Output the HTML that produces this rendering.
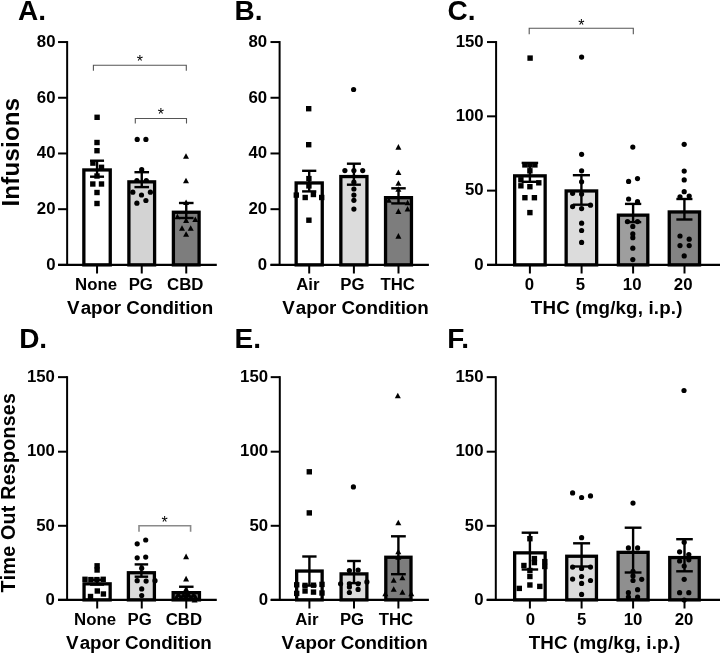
<!DOCTYPE html>
<html><head><meta charset="utf-8"><style>
html,body{margin:0;padding:0;background:#fff;width:720px;height:654px;overflow:hidden}
svg{display:block;will-change:transform}
text{font-family:"Liberation Sans", sans-serif;fill:#000;font-kerning:none}
</style></head><body>
<svg width="720" height="654" viewBox="0 0 720 654">
<rect width="720" height="654" fill="#fff"/>
<text x="18.00" y="20.20" font-size="28" font-weight="bold" text-anchor="start" >A.</text>
<text x="234.43" y="20.40" font-size="28" font-weight="bold" text-anchor="start" >B.</text>
<text x="447.45" y="20.10" font-size="28" font-weight="bold" text-anchor="start" >C.</text>
<text x="19.13" y="348.00" font-size="28" font-weight="bold" text-anchor="start" >D.</text>
<text x="234.53" y="348.00" font-size="28" font-weight="bold" text-anchor="start" >E.</text>
<text x="447.23" y="348.40" font-size="28" font-weight="bold">F<tspan dx="-3">.</tspan></text>
<text x="-206.61" y="0.00" font-size="24" font-weight="bold" textLength="108.69" lengthAdjust="spacing" transform="translate(18.8,0) rotate(-90)">Infusions</text>
<text x="-592.42" y="0.00" font-size="19.6" font-weight="bold" textLength="199.32" lengthAdjust="spacing" transform="translate(14.8,0) rotate(-90)">Time Out Responses</text>
<text x="67.07" y="313.80" font-size="18.8" font-weight="bold" textLength="146.09" lengthAdjust="spacing" >V<tspan dx="1.2">apor Condition</tspan></text>
<text x="282.17" y="313.90" font-size="18.8" font-weight="bold" textLength="146.59" lengthAdjust="spacing" >V<tspan dx="1.2">apor Condition</tspan></text>
<text x="530.79" y="313.90" font-size="18.8" font-weight="bold" textLength="151.65" lengthAdjust="spacing" >THC (mg/kg, i.p.)</text>
<text x="66.07" y="649.40" font-size="18.8" font-weight="bold" textLength="145.69" lengthAdjust="spacing" >V<tspan dx="1.2">apor Condition</tspan></text>
<text x="281.47" y="649.40" font-size="18.8" font-weight="bold" textLength="146.29" lengthAdjust="spacing" >V<tspan dx="1.2">apor Condition</tspan></text>
<text x="528.69" y="649.30" font-size="18.8" font-weight="bold" textLength="151.55" lengthAdjust="spacing" >THC (mg/kg, i.p.)</text>
<rect x="83.85" y="169.95" width="26.40" height="94.95" fill="#ffffff" stroke="#000" stroke-width="3.3"/>
<line x1="97.05" y1="160.70" x2="97.05" y2="176.70" stroke="#000" stroke-width="2.4" stroke-linecap="butt"/>
<line x1="90.05" y1="160.70" x2="104.05" y2="160.70" stroke="#000" stroke-width="2.4" stroke-linecap="butt"/>
<line x1="90.05" y1="176.70" x2="104.05" y2="176.70" stroke="#000" stroke-width="2.4" stroke-linecap="butt"/>
<rect x="94.40" y="114.60" width="5.4" height="5.4"/>
<rect x="94.30" y="139.80" width="5.4" height="5.4"/>
<rect x="94.30" y="148.00" width="5.4" height="5.4"/>
<rect x="90.20" y="160.40" width="5.4" height="5.4"/>
<rect x="98.80" y="164.60" width="5.4" height="5.4"/>
<rect x="94.30" y="173.30" width="5.4" height="5.4"/>
<rect x="90.10" y="181.30" width="5.4" height="5.4"/>
<rect x="98.80" y="181.30" width="5.4" height="5.4"/>
<rect x="94.30" y="189.80" width="5.4" height="5.4"/>
<rect x="94.30" y="200.80" width="5.4" height="5.4"/>
<rect x="128.90" y="181.85" width="25.70" height="83.05" fill="#d3d3d3" stroke="#000" stroke-width="3.3"/>
<line x1="141.75" y1="172.20" x2="141.75" y2="187.10" stroke="#000" stroke-width="2.4" stroke-linecap="butt"/>
<line x1="134.45" y1="172.20" x2="149.05" y2="172.20" stroke="#000" stroke-width="2.4" stroke-linecap="butt"/>
<line x1="134.45" y1="187.10" x2="149.05" y2="187.10" stroke="#000" stroke-width="2.4" stroke-linecap="butt"/>
<circle cx="137.20" cy="139.40" r="2.6"/>
<circle cx="145.90" cy="139.40" r="2.6"/>
<circle cx="141.70" cy="169.70" r="2.6"/>
<circle cx="136.90" cy="180.50" r="2.6"/>
<circle cx="146.30" cy="180.50" r="2.6"/>
<circle cx="132.80" cy="192.20" r="2.6"/>
<circle cx="150.40" cy="192.20" r="2.6"/>
<circle cx="141.50" cy="195.00" r="2.6"/>
<circle cx="145.90" cy="200.50" r="2.6"/>
<circle cx="136.90" cy="203.20" r="2.6"/>
<rect x="173.40" y="212.25" width="25.70" height="52.65" fill="#7d7d7d" stroke="#000" stroke-width="3.3"/>
<line x1="186.25" y1="203.00" x2="186.25" y2="218.00" stroke="#000" stroke-width="2.4" stroke-linecap="butt"/>
<line x1="178.95" y1="203.00" x2="193.55" y2="203.00" stroke="#000" stroke-width="2.4" stroke-linecap="butt"/>
<line x1="178.95" y1="218.00" x2="193.55" y2="218.00" stroke="#000" stroke-width="2.4" stroke-linecap="butt"/>
<path d="M186.00,153.24L189.00,158.84L183.00,158.84Z"/>
<path d="M186.00,177.64L189.00,183.24L183.00,183.24Z"/>
<path d="M186.10,199.44L189.10,205.04L183.10,205.04Z"/>
<path d="M177.40,213.64L180.40,219.24L174.40,219.24Z"/>
<path d="M195.30,216.44L198.30,222.04L192.30,222.04Z"/>
<path d="M186.10,217.34L189.10,222.94L183.10,222.94Z"/>
<path d="M182.00,225.14L185.00,230.74L179.00,230.74Z"/>
<path d="M190.70,225.14L193.70,230.74L187.70,230.74Z"/>
<path d="M186.10,231.14L189.10,236.74L183.10,236.74Z"/>
<line x1="67.15" y1="41.05" x2="67.15" y2="264.90" stroke="#000" stroke-width="2.0" stroke-linecap="butt"/>
<line x1="58.05" y1="264.90" x2="67.15" y2="264.90" stroke="#000" stroke-width="2.0" stroke-linecap="butt"/>
<text x="55.50" y="269.68" font-size="16.8" font-weight="bold" text-anchor="end" >0</text>
<line x1="58.05" y1="209.19" x2="67.15" y2="209.19" stroke="#000" stroke-width="2.0" stroke-linecap="butt"/>
<text x="55.50" y="213.97" font-size="16.8" font-weight="bold" text-anchor="end" >20</text>
<line x1="58.05" y1="153.47" x2="67.15" y2="153.47" stroke="#000" stroke-width="2.0" stroke-linecap="butt"/>
<text x="55.50" y="158.26" font-size="16.8" font-weight="bold" text-anchor="end" >40</text>
<line x1="58.05" y1="97.76" x2="67.15" y2="97.76" stroke="#000" stroke-width="2.0" stroke-linecap="butt"/>
<text x="55.50" y="102.54" font-size="16.8" font-weight="bold" text-anchor="end" >60</text>
<line x1="58.05" y1="42.05" x2="67.15" y2="42.05" stroke="#000" stroke-width="2.0" stroke-linecap="butt"/>
<text x="55.50" y="46.83" font-size="16.8" font-weight="bold" text-anchor="end" >80</text>
<line x1="58.05" y1="264.90" x2="216.80" y2="264.90" stroke="#000" stroke-width="2.2" stroke-linecap="butt"/>
<line x1="97.05" y1="264.90" x2="97.05" y2="273.50" stroke="#000" stroke-width="2" stroke-linecap="butt"/>
<text x="96.00" y="289.60" font-size="16.8" font-weight="bold" text-anchor="middle" >None</text>
<line x1="141.75" y1="264.90" x2="141.75" y2="273.50" stroke="#000" stroke-width="2" stroke-linecap="butt"/>
<text x="140.80" y="289.60" font-size="16.8" font-weight="bold" text-anchor="middle" >PG</text>
<line x1="186.25" y1="264.90" x2="186.25" y2="273.50" stroke="#000" stroke-width="2" stroke-linecap="butt"/>
<text x="185.30" y="289.60" font-size="16.8" font-weight="bold" text-anchor="middle" >CBD</text>
<path d="M93.40,70.70V65.20H186.30V70.70" fill="none" stroke="#555" stroke-width="1.1"/>
<text x="139.90" y="66.80" font-size="16" font-weight="normal" text-anchor="middle" >*</text>
<path d="M135.30,123.50V118.50H186.50V123.50" fill="none" stroke="#555" stroke-width="1.1"/>
<text x="160.90" y="119.50" font-size="16" font-weight="normal" text-anchor="middle" >*</text>
<rect x="296.15" y="182.95" width="26.10" height="81.95" fill="#ffffff" stroke="#000" stroke-width="3.3"/>
<line x1="309.20" y1="170.80" x2="309.20" y2="191.40" stroke="#000" stroke-width="2.4" stroke-linecap="butt"/>
<line x1="302.10" y1="170.80" x2="316.30" y2="170.80" stroke="#000" stroke-width="2.4" stroke-linecap="butt"/>
<line x1="302.10" y1="191.40" x2="316.30" y2="191.40" stroke="#000" stroke-width="2.4" stroke-linecap="butt"/>
<rect x="306.00" y="106.00" width="5.4" height="5.4"/>
<rect x="306.00" y="142.00" width="5.4" height="5.4"/>
<rect x="306.20" y="175.90" width="5.4" height="5.4"/>
<rect x="306.20" y="183.20" width="5.4" height="5.4"/>
<rect x="293.60" y="192.40" width="5.4" height="5.4"/>
<rect x="302.50" y="194.80" width="5.4" height="5.4"/>
<rect x="310.70" y="191.80" width="5.4" height="5.4"/>
<rect x="319.00" y="194.80" width="5.4" height="5.4"/>
<rect x="306.20" y="217.50" width="5.4" height="5.4"/>
<rect x="340.85" y="176.55" width="26.10" height="88.35" fill="#dcdcdc" stroke="#000" stroke-width="3.3"/>
<line x1="353.90" y1="163.70" x2="353.90" y2="184.70" stroke="#000" stroke-width="2.4" stroke-linecap="butt"/>
<line x1="346.90" y1="163.70" x2="360.90" y2="163.70" stroke="#000" stroke-width="2.4" stroke-linecap="butt"/>
<line x1="346.90" y1="184.70" x2="360.90" y2="184.70" stroke="#000" stroke-width="2.4" stroke-linecap="butt"/>
<circle cx="353.60" cy="89.50" r="2.6"/>
<circle cx="344.90" cy="170.60" r="2.6"/>
<circle cx="353.90" cy="170.60" r="2.6"/>
<circle cx="362.70" cy="170.60" r="2.6"/>
<circle cx="353.90" cy="182.20" r="2.6"/>
<circle cx="353.90" cy="189.00" r="2.6"/>
<circle cx="353.90" cy="195.10" r="2.6"/>
<circle cx="353.90" cy="200.30" r="2.6"/>
<circle cx="353.90" cy="209.10" r="2.6"/>
<rect x="385.55" y="197.65" width="25.90" height="67.25" fill="#7d7d7d" stroke="#000" stroke-width="3.3"/>
<line x1="398.50" y1="188.30" x2="398.50" y2="203.40" stroke="#000" stroke-width="2.4" stroke-linecap="butt"/>
<line x1="391.25" y1="188.30" x2="405.75" y2="188.30" stroke="#000" stroke-width="2.4" stroke-linecap="butt"/>
<line x1="391.25" y1="203.40" x2="405.75" y2="203.40" stroke="#000" stroke-width="2.4" stroke-linecap="butt"/>
<path d="M398.40,144.04L401.40,149.64L395.40,149.64Z"/>
<path d="M398.40,169.44L401.40,175.04L395.40,175.04Z"/>
<path d="M398.40,180.24L401.40,185.84L395.40,185.84Z"/>
<path d="M398.40,186.24L401.40,191.84L395.40,191.84Z"/>
<path d="M388.90,197.24L391.90,202.84L385.90,202.84Z"/>
<path d="M407.60,199.64L410.60,205.24L404.60,205.24Z"/>
<path d="M407.60,205.94L410.60,211.54L404.60,211.54Z"/>
<path d="M398.40,208.34L401.40,213.94L395.40,213.94Z"/>
<path d="M398.40,233.04L401.40,238.64L395.40,238.64Z"/>
<line x1="279.60" y1="41.05" x2="279.60" y2="264.90" stroke="#000" stroke-width="2.0" stroke-linecap="butt"/>
<line x1="270.50" y1="264.90" x2="279.60" y2="264.90" stroke="#000" stroke-width="2.0" stroke-linecap="butt"/>
<text x="267.20" y="269.68" font-size="16.8" font-weight="bold" text-anchor="end" >0</text>
<line x1="270.50" y1="209.19" x2="279.60" y2="209.19" stroke="#000" stroke-width="2.0" stroke-linecap="butt"/>
<text x="267.20" y="213.97" font-size="16.8" font-weight="bold" text-anchor="end" >20</text>
<line x1="270.50" y1="153.47" x2="279.60" y2="153.47" stroke="#000" stroke-width="2.0" stroke-linecap="butt"/>
<text x="267.20" y="158.26" font-size="16.8" font-weight="bold" text-anchor="end" >40</text>
<line x1="270.50" y1="97.76" x2="279.60" y2="97.76" stroke="#000" stroke-width="2.0" stroke-linecap="butt"/>
<text x="267.20" y="102.54" font-size="16.8" font-weight="bold" text-anchor="end" >60</text>
<line x1="270.50" y1="42.05" x2="279.60" y2="42.05" stroke="#000" stroke-width="2.0" stroke-linecap="butt"/>
<text x="267.20" y="46.83" font-size="16.8" font-weight="bold" text-anchor="end" >80</text>
<line x1="270.50" y1="264.90" x2="428.90" y2="264.90" stroke="#000" stroke-width="2.2" stroke-linecap="butt"/>
<line x1="309.20" y1="264.90" x2="309.20" y2="273.50" stroke="#000" stroke-width="2" stroke-linecap="butt"/>
<text x="307.90" y="289.60" font-size="16.8" font-weight="bold" text-anchor="middle" >Air</text>
<line x1="353.90" y1="264.90" x2="353.90" y2="273.50" stroke="#000" stroke-width="2" stroke-linecap="butt"/>
<text x="352.45" y="289.60" font-size="16.8" font-weight="bold" text-anchor="middle" >PG</text>
<line x1="398.50" y1="264.90" x2="398.50" y2="273.50" stroke="#000" stroke-width="2" stroke-linecap="butt"/>
<text x="397.70" y="289.60" font-size="16.8" font-weight="bold" text-anchor="middle" >THC</text>
<rect x="514.65" y="175.85" width="30.50" height="89.05" fill="#ffffff" stroke="#000" stroke-width="3.3"/>
<line x1="529.90" y1="162.90" x2="529.90" y2="181.80" stroke="#000" stroke-width="2.4" stroke-linecap="butt"/>
<line x1="521.65" y1="162.90" x2="538.15" y2="162.90" stroke="#000" stroke-width="2.4" stroke-linecap="butt"/>
<line x1="521.65" y1="181.80" x2="538.15" y2="181.80" stroke="#000" stroke-width="2.4" stroke-linecap="butt"/>
<rect x="527.40" y="55.40" width="5.4" height="5.4"/>
<rect x="522.20" y="162.20" width="5.4" height="5.4"/>
<rect x="527.20" y="162.20" width="5.4" height="5.4"/>
<rect x="532.20" y="162.20" width="5.4" height="5.4"/>
<rect x="527.20" y="168.10" width="5.4" height="5.4"/>
<rect x="518.20" y="177.10" width="5.4" height="5.4"/>
<rect x="536.10" y="180.10" width="5.4" height="5.4"/>
<rect x="518.20" y="183.10" width="5.4" height="5.4"/>
<rect x="527.20" y="184.00" width="5.4" height="5.4"/>
<rect x="522.20" y="195.00" width="5.4" height="5.4"/>
<rect x="531.70" y="195.00" width="5.4" height="5.4"/>
<rect x="527.20" y="209.90" width="5.4" height="5.4"/>
<rect x="566.15" y="190.95" width="30.50" height="73.95" fill="#dcdcdc" stroke="#000" stroke-width="3.3"/>
<line x1="581.40" y1="175.20" x2="581.40" y2="204.70" stroke="#000" stroke-width="2.4" stroke-linecap="butt"/>
<line x1="572.85" y1="175.20" x2="589.95" y2="175.20" stroke="#000" stroke-width="2.4" stroke-linecap="butt"/>
<line x1="572.85" y1="204.70" x2="589.95" y2="204.70" stroke="#000" stroke-width="2.4" stroke-linecap="butt"/>
<circle cx="581.60" cy="57.10" r="2.6"/>
<circle cx="581.60" cy="154.30" r="2.6"/>
<circle cx="581.60" cy="170.80" r="2.6"/>
<circle cx="581.60" cy="181.80" r="2.6"/>
<circle cx="572.60" cy="193.30" r="2.6"/>
<circle cx="581.60" cy="194.10" r="2.6"/>
<circle cx="572.60" cy="206.60" r="2.6"/>
<circle cx="581.60" cy="208.60" r="2.6"/>
<circle cx="590.50" cy="205.20" r="2.6"/>
<circle cx="581.60" cy="223.20" r="2.6"/>
<circle cx="581.60" cy="230.50" r="2.6"/>
<circle cx="581.60" cy="242.40" r="2.6"/>
<rect x="618.40" y="215.15" width="29.40" height="49.75" fill="#9e9e9e" stroke="#000" stroke-width="3.3"/>
<line x1="633.10" y1="203.90" x2="633.10" y2="222.10" stroke="#000" stroke-width="2.4" stroke-linecap="butt"/>
<line x1="624.95" y1="203.90" x2="641.25" y2="203.90" stroke="#000" stroke-width="2.4" stroke-linecap="butt"/>
<line x1="624.95" y1="222.10" x2="641.25" y2="222.10" stroke="#000" stroke-width="2.4" stroke-linecap="butt"/>
<circle cx="632.80" cy="147.10" r="2.6"/>
<circle cx="628.60" cy="181.40" r="2.6"/>
<circle cx="637.50" cy="178.60" r="2.6"/>
<circle cx="628.60" cy="199.00" r="2.6"/>
<circle cx="637.50" cy="201.70" r="2.6"/>
<circle cx="627.50" cy="221.60" r="2.6"/>
<circle cx="637.50" cy="221.60" r="2.6"/>
<circle cx="632.80" cy="226.40" r="2.6"/>
<circle cx="632.80" cy="233.90" r="2.6"/>
<circle cx="632.80" cy="237.70" r="2.6"/>
<circle cx="632.80" cy="248.20" r="2.6"/>
<circle cx="632.80" cy="259.60" r="2.6"/>
<rect x="669.25" y="211.95" width="30.30" height="52.95" fill="#838383" stroke="#000" stroke-width="3.3"/>
<line x1="684.40" y1="199.00" x2="684.40" y2="219.50" stroke="#000" stroke-width="2.4" stroke-linecap="butt"/>
<line x1="676.35" y1="199.00" x2="692.45" y2="199.00" stroke="#000" stroke-width="2.4" stroke-linecap="butt"/>
<line x1="676.35" y1="219.50" x2="692.45" y2="219.50" stroke="#000" stroke-width="2.4" stroke-linecap="butt"/>
<circle cx="684.20" cy="144.30" r="2.6"/>
<circle cx="684.20" cy="171.10" r="2.6"/>
<circle cx="684.20" cy="179.90" r="2.6"/>
<circle cx="684.20" cy="191.70" r="2.6"/>
<circle cx="680.00" cy="196.80" r="2.6"/>
<circle cx="689.20" cy="196.00" r="2.6"/>
<circle cx="680.00" cy="236.00" r="2.6"/>
<circle cx="689.20" cy="239.20" r="2.6"/>
<circle cx="680.00" cy="245.60" r="2.6"/>
<circle cx="689.20" cy="245.60" r="2.6"/>
<circle cx="684.20" cy="255.90" r="2.6"/>
<line x1="496.10" y1="41.05" x2="496.10" y2="264.90" stroke="#000" stroke-width="2.0" stroke-linecap="butt"/>
<line x1="487.00" y1="264.90" x2="496.10" y2="264.90" stroke="#000" stroke-width="2.0" stroke-linecap="butt"/>
<text x="483.70" y="269.68" font-size="16.8" font-weight="bold" text-anchor="end" >0</text>
<line x1="487.00" y1="190.62" x2="496.10" y2="190.62" stroke="#000" stroke-width="2.0" stroke-linecap="butt"/>
<text x="483.70" y="195.40" font-size="16.8" font-weight="bold" text-anchor="end" >50</text>
<line x1="487.00" y1="116.33" x2="496.10" y2="116.33" stroke="#000" stroke-width="2.0" stroke-linecap="butt"/>
<text x="483.70" y="121.11" font-size="16.8" font-weight="bold" text-anchor="end" >100</text>
<line x1="487.00" y1="42.05" x2="496.10" y2="42.05" stroke="#000" stroke-width="2.0" stroke-linecap="butt"/>
<text x="483.70" y="46.83" font-size="16.8" font-weight="bold" text-anchor="end" >150</text>
<line x1="487.00" y1="264.90" x2="721.00" y2="264.90" stroke="#000" stroke-width="2.2" stroke-linecap="butt"/>
<line x1="529.90" y1="264.90" x2="529.90" y2="273.50" stroke="#000" stroke-width="2" stroke-linecap="butt"/>
<text x="529.30" y="289.60" font-size="16.8" font-weight="bold" text-anchor="middle" >0</text>
<line x1="581.60" y1="264.90" x2="581.60" y2="273.50" stroke="#000" stroke-width="2" stroke-linecap="butt"/>
<text x="580.30" y="289.60" font-size="16.8" font-weight="bold" text-anchor="middle" >5</text>
<line x1="633.10" y1="264.90" x2="633.10" y2="273.50" stroke="#000" stroke-width="2" stroke-linecap="butt"/>
<text x="632.20" y="289.60" font-size="16.8" font-weight="bold" text-anchor="middle" >10</text>
<line x1="684.50" y1="264.90" x2="684.50" y2="273.50" stroke="#000" stroke-width="2" stroke-linecap="butt"/>
<text x="683.20" y="289.60" font-size="16.8" font-weight="bold" text-anchor="middle" >20</text>
<path d="M529.20,34.30V28.30H633.30V34.30" fill="none" stroke="#555" stroke-width="1.1"/>
<text x="581.40" y="31.10" font-size="16" font-weight="normal" text-anchor="middle" >*</text>
<rect x="84.05" y="583.85" width="26.10" height="16.05" fill="#ffffff" stroke="#000" stroke-width="3.3"/>
<line x1="97.10" y1="579.80" x2="97.10" y2="584.60" stroke="#000" stroke-width="2.4" stroke-linecap="butt"/>
<line x1="90.10" y1="579.80" x2="104.10" y2="579.80" stroke="#000" stroke-width="2.4" stroke-linecap="butt"/>
<line x1="90.10" y1="584.60" x2="104.10" y2="584.60" stroke="#000" stroke-width="2.4" stroke-linecap="butt"/>
<rect x="94.40" y="563.10" width="5.4" height="5.4"/>
<rect x="94.40" y="567.30" width="5.4" height="5.4"/>
<rect x="82.30" y="576.60" width="5.4" height="5.4"/>
<rect x="88.20" y="576.90" width="5.4" height="5.4"/>
<rect x="94.20" y="576.90" width="5.4" height="5.4"/>
<rect x="100.50" y="576.60" width="5.4" height="5.4"/>
<rect x="94.60" y="588.30" width="5.4" height="5.4"/>
<rect x="100.70" y="591.30" width="5.4" height="5.4"/>
<rect x="87.80" y="593.80" width="5.4" height="5.4"/>
<rect x="128.40" y="572.75" width="26.00" height="27.15" fill="#dcdcdc" stroke="#000" stroke-width="3.3"/>
<line x1="141.40" y1="564.40" x2="141.40" y2="576.70" stroke="#000" stroke-width="2.4" stroke-linecap="butt"/>
<line x1="134.65" y1="564.40" x2="148.15" y2="564.40" stroke="#000" stroke-width="2.4" stroke-linecap="butt"/>
<line x1="134.65" y1="576.70" x2="148.15" y2="576.70" stroke="#000" stroke-width="2.4" stroke-linecap="butt"/>
<circle cx="137.20" cy="543.80" r="2.6"/>
<circle cx="145.70" cy="540.00" r="2.6"/>
<circle cx="137.20" cy="557.80" r="2.6"/>
<circle cx="145.70" cy="557.10" r="2.6"/>
<circle cx="141.70" cy="568.20" r="2.6"/>
<circle cx="137.20" cy="580.70" r="2.6"/>
<circle cx="146.10" cy="581.10" r="2.6"/>
<circle cx="155.00" cy="580.70" r="2.6"/>
<circle cx="141.70" cy="588.90" r="2.6"/>
<circle cx="141.70" cy="595.60" r="2.6"/>
<rect x="173.15" y="592.65" width="26.30" height="7.25" fill="#7d7d7d" stroke="#000" stroke-width="3.3"/>
<line x1="186.30" y1="586.75" x2="186.30" y2="598.50" stroke="#000" stroke-width="2.4" stroke-linecap="butt"/>
<line x1="179.05" y1="586.75" x2="193.55" y2="586.75" stroke="#000" stroke-width="2.4" stroke-linecap="butt"/>
<line x1="179.05" y1="598.50" x2="193.55" y2="598.50" stroke="#000" stroke-width="2.4" stroke-linecap="butt"/>
<path d="M186.10,553.54L189.10,559.14L183.10,559.14Z"/>
<path d="M186.10,575.84L189.10,581.44L183.10,581.44Z"/>
<path d="M186.10,585.94L189.10,591.54L183.10,591.54Z"/>
<path d="M178.50,591.44L181.50,597.04L175.50,597.04Z"/>
<path d="M183.50,591.84L186.50,597.44L180.50,597.44Z"/>
<path d="M188.50,591.44L191.50,597.04L185.50,597.04Z"/>
<path d="M193.50,591.84L196.50,597.44L190.50,597.44Z"/>
<path d="M176.50,593.94L179.50,599.54L173.50,599.54Z"/>
<path d="M181.00,594.14L184.00,599.74L178.00,599.74Z"/>
<path d="M186.00,593.94L189.00,599.54L183.00,599.54Z"/>
<path d="M191.00,594.14L194.00,599.74L188.00,599.74Z"/>
<path d="M195.50,593.94L198.50,599.54L192.50,599.54Z"/>
<path d="M194.60,596.84L197.60,602.44L191.60,602.44Z"/>
<line x1="67.10" y1="376.15" x2="67.10" y2="599.90" stroke="#000" stroke-width="2.0" stroke-linecap="butt"/>
<line x1="58.00" y1="599.90" x2="67.10" y2="599.90" stroke="#000" stroke-width="2.0" stroke-linecap="butt"/>
<text x="54.90" y="604.68" font-size="16.8" font-weight="bold" text-anchor="end" >0</text>
<line x1="58.00" y1="525.80" x2="67.10" y2="525.80" stroke="#000" stroke-width="2.0" stroke-linecap="butt"/>
<text x="54.90" y="530.58" font-size="16.8" font-weight="bold" text-anchor="end" >50</text>
<line x1="58.00" y1="451.70" x2="67.10" y2="451.70" stroke="#000" stroke-width="2.0" stroke-linecap="butt"/>
<text x="54.90" y="456.48" font-size="16.8" font-weight="bold" text-anchor="end" >100</text>
<line x1="58.00" y1="377.15" x2="67.10" y2="377.15" stroke="#000" stroke-width="2.0" stroke-linecap="butt"/>
<text x="54.90" y="381.93" font-size="16.8" font-weight="bold" text-anchor="end" >150</text>
<line x1="58.00" y1="599.90" x2="216.80" y2="599.90" stroke="#000" stroke-width="2.2" stroke-linecap="butt"/>
<line x1="97.20" y1="599.90" x2="97.20" y2="608.50" stroke="#000" stroke-width="2" stroke-linecap="butt"/>
<text x="95.05" y="625.10" font-size="16.8" font-weight="bold" text-anchor="middle" >None</text>
<line x1="141.75" y1="599.90" x2="141.75" y2="608.50" stroke="#000" stroke-width="2" stroke-linecap="butt"/>
<text x="139.60" y="625.10" font-size="16.8" font-weight="bold" text-anchor="middle" >PG</text>
<line x1="186.25" y1="599.90" x2="186.25" y2="608.50" stroke="#000" stroke-width="2" stroke-linecap="butt"/>
<text x="183.90" y="625.10" font-size="16.8" font-weight="bold" text-anchor="middle" >CBD</text>
<path d="M139.00,531.80V525.80H190.60V531.80" fill="none" stroke="#8a8a8a" stroke-width="1.6"/>
<text x="164.70" y="527.90" font-size="16" font-weight="normal" text-anchor="middle" >*</text>
<rect x="296.65" y="571.05" width="25.50" height="28.85" fill="#ffffff" stroke="#000" stroke-width="3.3"/>
<line x1="309.40" y1="556.50" x2="309.40" y2="585.60" stroke="#000" stroke-width="2.4" stroke-linecap="butt"/>
<line x1="302.25" y1="556.50" x2="316.55" y2="556.50" stroke="#000" stroke-width="2.4" stroke-linecap="butt"/>
<line x1="302.25" y1="585.60" x2="316.55" y2="585.60" stroke="#000" stroke-width="2.4" stroke-linecap="butt"/>
<rect x="306.60" y="469.10" width="5.4" height="5.4"/>
<rect x="306.60" y="510.20" width="5.4" height="5.4"/>
<rect x="302.35" y="582.70" width="5.4" height="5.4"/>
<rect x="302.35" y="588.30" width="5.4" height="5.4"/>
<rect x="310.80" y="582.50" width="5.4" height="5.4"/>
<rect x="310.80" y="589.40" width="5.4" height="5.4"/>
<rect x="294.00" y="582.10" width="5.4" height="5.4"/>
<rect x="294.00" y="590.70" width="5.4" height="5.4"/>
<rect x="319.30" y="581.70" width="5.4" height="5.4"/>
<rect x="319.30" y="590.30" width="5.4" height="5.4"/>
<rect x="341.10" y="573.90" width="25.80" height="26.00" fill="#dcdcdc" stroke="#000" stroke-width="3.3"/>
<line x1="354.00" y1="561.00" x2="354.00" y2="583.10" stroke="#000" stroke-width="2.4" stroke-linecap="butt"/>
<line x1="347.15" y1="561.00" x2="360.85" y2="561.00" stroke="#000" stroke-width="2.4" stroke-linecap="butt"/>
<line x1="347.15" y1="583.10" x2="360.85" y2="583.10" stroke="#000" stroke-width="2.4" stroke-linecap="butt"/>
<circle cx="353.40" cy="486.90" r="2.6"/>
<circle cx="349.40" cy="570.60" r="2.6"/>
<circle cx="358.10" cy="570.00" r="2.6"/>
<circle cx="340.60" cy="583.75" r="2.6"/>
<circle cx="349.40" cy="583.75" r="2.6"/>
<circle cx="358.10" cy="583.75" r="2.6"/>
<circle cx="366.90" cy="581.90" r="2.6"/>
<circle cx="349.40" cy="586.90" r="2.6"/>
<circle cx="358.10" cy="589.40" r="2.6"/>
<circle cx="349.40" cy="592.50" r="2.6"/>
<rect x="385.80" y="557.25" width="25.20" height="42.65" fill="#7d7d7d" stroke="#000" stroke-width="3.3"/>
<line x1="398.40" y1="536.30" x2="398.40" y2="574.20" stroke="#000" stroke-width="2.4" stroke-linecap="butt"/>
<line x1="391.00" y1="536.30" x2="405.80" y2="536.30" stroke="#000" stroke-width="2.4" stroke-linecap="butt"/>
<line x1="391.00" y1="574.20" x2="405.80" y2="574.20" stroke="#000" stroke-width="2.4" stroke-linecap="butt"/>
<path d="M397.80,392.74L400.80,398.34L394.80,398.34Z"/>
<path d="M398.30,519.64L401.30,525.24L395.30,525.24Z"/>
<path d="M398.30,548.64L401.30,554.24L395.30,554.24Z"/>
<path d="M398.30,554.04L401.30,559.64L395.30,559.64Z"/>
<path d="M402.40,574.64L405.40,580.24L399.40,580.24Z"/>
<path d="M393.70,577.24L396.70,582.84L390.70,582.84Z"/>
<path d="M393.70,586.14L396.70,591.74L390.70,591.74Z"/>
<path d="M402.40,589.24L405.40,594.84L399.40,594.84Z"/>
<path d="M385.30,590.74L388.30,596.34L382.30,596.34Z"/>
<path d="M411.30,590.74L414.30,596.34L408.30,596.34Z"/>
<line x1="279.80" y1="376.15" x2="279.80" y2="599.90" stroke="#000" stroke-width="2.0" stroke-linecap="butt"/>
<line x1="270.70" y1="599.90" x2="279.80" y2="599.90" stroke="#000" stroke-width="2.0" stroke-linecap="butt"/>
<text x="268.10" y="604.68" font-size="16.8" font-weight="bold" text-anchor="end" >0</text>
<line x1="270.70" y1="525.80" x2="279.80" y2="525.80" stroke="#000" stroke-width="2.0" stroke-linecap="butt"/>
<text x="268.10" y="530.58" font-size="16.8" font-weight="bold" text-anchor="end" >50</text>
<line x1="270.70" y1="451.70" x2="279.80" y2="451.70" stroke="#000" stroke-width="2.0" stroke-linecap="butt"/>
<text x="268.10" y="456.48" font-size="16.8" font-weight="bold" text-anchor="end" >100</text>
<line x1="270.70" y1="377.15" x2="279.80" y2="377.15" stroke="#000" stroke-width="2.0" stroke-linecap="butt"/>
<text x="268.10" y="381.93" font-size="16.8" font-weight="bold" text-anchor="end" >150</text>
<line x1="270.70" y1="599.90" x2="428.90" y2="599.90" stroke="#000" stroke-width="2.2" stroke-linecap="butt"/>
<line x1="309.40" y1="599.90" x2="309.40" y2="608.50" stroke="#000" stroke-width="2" stroke-linecap="butt"/>
<text x="306.90" y="625.10" font-size="16.8" font-weight="bold" text-anchor="middle" >Air</text>
<line x1="354.00" y1="599.90" x2="354.00" y2="608.50" stroke="#000" stroke-width="2" stroke-linecap="butt"/>
<text x="352.00" y="625.10" font-size="16.8" font-weight="bold" text-anchor="middle" >PG</text>
<line x1="398.40" y1="599.90" x2="398.40" y2="608.50" stroke="#000" stroke-width="2" stroke-linecap="butt"/>
<text x="396.00" y="625.10" font-size="16.8" font-weight="bold" text-anchor="middle" >THC</text>
<rect x="514.65" y="552.85" width="30.50" height="47.05" fill="#ffffff" stroke="#000" stroke-width="3.3"/>
<line x1="529.90" y1="532.70" x2="529.90" y2="569.50" stroke="#000" stroke-width="2.4" stroke-linecap="butt"/>
<line x1="521.65" y1="532.70" x2="538.15" y2="532.70" stroke="#000" stroke-width="2.4" stroke-linecap="butt"/>
<line x1="521.65" y1="569.50" x2="538.15" y2="569.50" stroke="#000" stroke-width="2.4" stroke-linecap="butt"/>
<rect x="527.20" y="536.00" width="5.4" height="5.4"/>
<rect x="531.70" y="555.90" width="5.4" height="5.4"/>
<rect x="531.70" y="559.90" width="5.4" height="5.4"/>
<rect x="542.10" y="558.90" width="5.4" height="5.4"/>
<rect x="542.10" y="563.80" width="5.4" height="5.4"/>
<rect x="521.20" y="562.80" width="5.4" height="5.4"/>
<rect x="527.20" y="567.80" width="5.4" height="5.4"/>
<rect x="527.20" y="573.80" width="5.4" height="5.4"/>
<rect x="527.20" y="582.30" width="5.4" height="5.4"/>
<rect x="516.60" y="585.70" width="5.4" height="5.4"/>
<rect x="537.10" y="583.70" width="5.4" height="5.4"/>
<rect x="566.75" y="556.25" width="29.70" height="43.65" fill="#dcdcdc" stroke="#000" stroke-width="3.3"/>
<line x1="581.60" y1="543.30" x2="581.60" y2="566.50" stroke="#000" stroke-width="2.4" stroke-linecap="butt"/>
<line x1="573.10" y1="543.30" x2="590.10" y2="543.30" stroke="#000" stroke-width="2.4" stroke-linecap="butt"/>
<line x1="573.10" y1="566.50" x2="590.10" y2="566.50" stroke="#000" stroke-width="2.4" stroke-linecap="butt"/>
<circle cx="572.60" cy="492.90" r="2.6"/>
<circle cx="581.60" cy="497.50" r="2.6"/>
<circle cx="590.50" cy="495.90" r="2.6"/>
<circle cx="581.60" cy="537.70" r="2.6"/>
<circle cx="572.60" cy="567.10" r="2.6"/>
<circle cx="581.60" cy="568.50" r="2.6"/>
<circle cx="590.50" cy="567.10" r="2.6"/>
<circle cx="581.60" cy="576.50" r="2.6"/>
<circle cx="572.60" cy="579.10" r="2.6"/>
<circle cx="590.50" cy="580.50" r="2.6"/>
<circle cx="581.60" cy="583.40" r="2.6"/>
<circle cx="581.60" cy="594.40" r="2.6"/>
<rect x="618.10" y="552.35" width="30.00" height="47.55" fill="#8f8f8f" stroke="#000" stroke-width="3.3"/>
<line x1="633.10" y1="527.70" x2="633.10" y2="572.50" stroke="#000" stroke-width="2.4" stroke-linecap="butt"/>
<line x1="624.70" y1="527.70" x2="641.50" y2="527.70" stroke="#000" stroke-width="2.4" stroke-linecap="butt"/>
<line x1="624.70" y1="572.50" x2="641.50" y2="572.50" stroke="#000" stroke-width="2.4" stroke-linecap="butt"/>
<circle cx="633.00" cy="503.10" r="2.6"/>
<circle cx="628.40" cy="547.90" r="2.6"/>
<circle cx="637.60" cy="547.90" r="2.6"/>
<circle cx="633.00" cy="571.30" r="2.6"/>
<circle cx="633.00" cy="575.90" r="2.6"/>
<circle cx="641.70" cy="579.30" r="2.6"/>
<circle cx="633.00" cy="580.50" r="2.6"/>
<circle cx="637.60" cy="589.70" r="2.6"/>
<circle cx="628.40" cy="592.70" r="2.6"/>
<circle cx="628.40" cy="597.00" r="2.6"/>
<circle cx="637.60" cy="597.00" r="2.6"/>
<rect x="669.75" y="557.55" width="29.50" height="42.35" fill="#868686" stroke="#000" stroke-width="3.3"/>
<line x1="684.50" y1="539.20" x2="684.50" y2="571.30" stroke="#000" stroke-width="2.4" stroke-linecap="butt"/>
<line x1="676.20" y1="539.20" x2="692.80" y2="539.20" stroke="#000" stroke-width="2.4" stroke-linecap="butt"/>
<line x1="676.20" y1="571.30" x2="692.80" y2="571.30" stroke="#000" stroke-width="2.4" stroke-linecap="butt"/>
<circle cx="684.00" cy="390.50" r="2.6"/>
<circle cx="684.20" cy="542.20" r="2.6"/>
<circle cx="679.60" cy="551.80" r="2.6"/>
<circle cx="688.80" cy="554.60" r="2.6"/>
<circle cx="679.60" cy="561.00" r="2.6"/>
<circle cx="688.80" cy="559.80" r="2.6"/>
<circle cx="684.20" cy="566.00" r="2.6"/>
<circle cx="684.20" cy="579.30" r="2.6"/>
<circle cx="679.60" cy="592.70" r="2.6"/>
<circle cx="688.80" cy="592.70" r="2.6"/>
<circle cx="684.20" cy="600.00" r="2.6"/>
<line x1="495.80" y1="376.15" x2="495.80" y2="599.90" stroke="#000" stroke-width="2.0" stroke-linecap="butt"/>
<line x1="486.70" y1="599.90" x2="495.80" y2="599.90" stroke="#000" stroke-width="2.0" stroke-linecap="butt"/>
<text x="483.50" y="604.68" font-size="16.8" font-weight="bold" text-anchor="end" >0</text>
<line x1="486.70" y1="525.80" x2="495.80" y2="525.80" stroke="#000" stroke-width="2.0" stroke-linecap="butt"/>
<text x="483.50" y="530.58" font-size="16.8" font-weight="bold" text-anchor="end" >50</text>
<line x1="486.70" y1="451.70" x2="495.80" y2="451.70" stroke="#000" stroke-width="2.0" stroke-linecap="butt"/>
<text x="483.50" y="456.48" font-size="16.8" font-weight="bold" text-anchor="end" >100</text>
<line x1="486.70" y1="377.15" x2="495.80" y2="377.15" stroke="#000" stroke-width="2.0" stroke-linecap="butt"/>
<text x="483.50" y="381.93" font-size="16.8" font-weight="bold" text-anchor="end" >150</text>
<line x1="486.70" y1="599.90" x2="721.00" y2="599.90" stroke="#000" stroke-width="2.2" stroke-linecap="butt"/>
<line x1="529.90" y1="599.90" x2="529.90" y2="608.50" stroke="#000" stroke-width="2" stroke-linecap="butt"/>
<text x="530.30" y="625.10" font-size="16.8" font-weight="bold" text-anchor="middle" >0</text>
<line x1="581.60" y1="599.90" x2="581.60" y2="608.50" stroke="#000" stroke-width="2" stroke-linecap="butt"/>
<text x="581.60" y="625.10" font-size="16.8" font-weight="bold" text-anchor="middle" >5</text>
<line x1="633.10" y1="599.90" x2="633.10" y2="608.50" stroke="#000" stroke-width="2" stroke-linecap="butt"/>
<text x="633.10" y="625.10" font-size="16.8" font-weight="bold" text-anchor="middle" >10</text>
<line x1="684.50" y1="599.90" x2="684.50" y2="608.50" stroke="#000" stroke-width="2" stroke-linecap="butt"/>
<text x="684.10" y="625.10" font-size="16.8" font-weight="bold" text-anchor="middle" >20</text>
</svg>
</body></html>
